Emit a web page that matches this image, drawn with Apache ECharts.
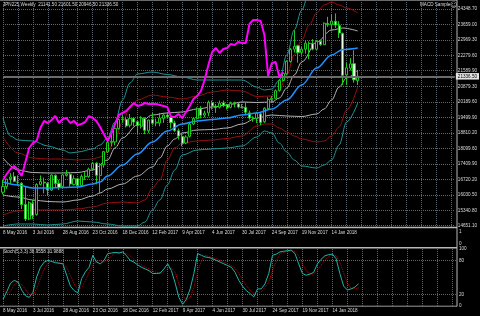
<!DOCTYPE html>
<html><head><meta charset="utf-8">
<script src="https://cdn.jsdelivr.net/npm/echarts@6/dist/echarts.min.js"></script>
<style>html,body{margin:0;padding:0;background:#000;}#c{width:480px;height:316px;}</style>
</head><body><div id="c"></div>
<script>
// ---------- data ----------
const categoryCount = 122; // weekly slots on the x axis (96 with data)
const dateLabels = ['8 May 2016','3 Jul 2016','28 Aug 2016','23 Oct 2016','18 Dec 2016','12 Feb 2017','9 Apr 2017','4 Jun 2017','30 Jul 2017','24 Sep 2017','19 Nov 2017','14 Jan 2018'];
const priceTicks = [14651.10,15340.80,16030.50,16720.20,17409.90,18099.60,18810.20,19499.90,20189.60,20879.30,21589.90,22279.60,22969.30,23659.00,24348.70];
const stochLabelTicks = [0,20,80,100];
const stochLevelLines = [20,80];
const subWindowTicks = [0,1];

const opens = [16150,16400,16750,16850,16600,16550,15600,14950,15650,15150,
16500,16600,16550,16250,16900,16550,16400,16900,16950,16500,
16750,16450,16860,16850,17200,17450,16900,17380,17950,18380,
18400,19000,19400,19400,19150,19450,19300,19100,19450,18900,
19400,19250,19250,19450,19600,19500,19250,18900,18650,18350,
18650,19200,19450,19880,19600,19700,20150,20000,19950,20150,
20050,19950,20100,20100,19950,19950,19700,19450,19450,19650,
19300,19900,20300,20350,20700,21150,21450,22000,22550,22700,
22400,22550,22800,22800,22550,22900,22750,23700,23650,23800,
23600,23250,21400,21700,21900,21141.5];
const highs = [16700,16750,17000,17050,16900,16600,16400,15750,15800,16550,
16900,16800,16600,16950,16950,16700,16950,17150,17000,16900,
16800,16950,17050,17250,17500,17500,17450,18000,18450,18750,
19050,19450,19600,19500,19650,19500,19350,19550,19500,19400,
19700,19450,19700,19700,19700,19550,19350,19000,18750,18700,
19300,19500,19950,20000,19800,20250,20250,20100,20250,20250,
20100,20200,20200,20150,20100,20150,19800,19550,19750,19750,
19950,20400,20450,20750,21200,21500,22050,22600,23400,22750,
22650,22950,22900,23000,22950,22950,23750,24000,24100,24150,
23800,23300,21950,22150,22500,21601.5];
const lows = [16050,16300,16500,16600,16450,15400,14860,14900,14950,15100,
16450,16100,16000,16200,16350,16250,16350,16850,16400,16450,
16350,16400,16700,16800,17150,16500,16100,17250,17900,18200,
18250,18950,19250,19050,19050,19100,18750,19000,18750,18800,
19150,19100,19100,19250,19450,19000,18850,18500,18200,18300,
18600,19150,19400,19450,19500,19550,19850,19700,19900,19950,
19850,19900,19950,19900,19900,19650,19400,19300,19250,19150,
19250,19850,20150,20350,20650,21100,21400,21950,22400,21950,
22300,22350,22100,22500,22500,22700,22750,23550,23350,23500,
23050,20950,20950,21600,21050,20946.5];
const closes = [16412,16736,16834,16642,16601,15599,14952,15682,15106,16497,
16627,16569,16254,16919,16545,16360,16925,16965,16519,16754,
16450,16860,16856,17184,17446,16905,17374,17967,18381,18426,
18996,19401,19428,19114,19454,19287,19137,19467,18918,19378,
19235,19283,19469,19604,19521,19262,18909,18664,18335,18620,
19196,19445,19883,19590,19686,20177,20013,19943,20132,20033,
19929,20118,20099,19959,19952,19729,19470,19452,19691,19274,
19909,20296,20356,20690,21155,21457,22008,22539,22681,22397,
22550,22819,22811,22553,22902,22764,23714,23653,23808,23631,
23274,21382,21720,21892,21181,21336.5];

// moving average and bands: [week index, price]
const maBlue = [[0,16607],[4,16473],[8,16339],[12,16339],[16,16361],[20,16383],[24,16517],[26,16607],[28,16875],[32,17367],[36,17860],[40,18397],[44,18889],[48,19202],[52,19337],[56,19404],[60,19471],[64,19605],[68,19695],[72,19874],[76,20276],[80,20948],[84,21708],[88,22290],[91,22536],[95,22603]];
const bandWhiteUp = [[0,17681],[4,17144],[8,17032],[12,17010],[16,17010],[20,17032],[24,17144],[28,17591],[30,18129],[32,18576],[36,19158],[40,19605],[44,19695],[48,19740],[52,19874],[56,19963],[60,20053],[64,20187],[68,20165],[72,20187],[74,20366],[76,20813],[78,21395],[80,21977],[84,22872],[88,23409],[91,23498],[95,23364]];
const bandRedUp = [[0,18621],[4,17905],[8,17681],[12,17636],[16,17636],[20,17591],[24,17636],[26,17726],[28,17949],[30,18486],[32,19292],[34,19918],[36,20276],[40,20500],[44,20410],[48,20321],[52,20455],[56,20634],[60,20724],[64,20679],[68,20433],[72,20455],[74,20724],[76,21395],[78,22290],[80,22961],[82,23633],[84,24170],[86,24528],[88,24662],[90,24528],[92,24393],[95,24170]];
const bandCyanUp = [[0,19471],[2,18665],[4,18486],[8,18442],[12,18218],[16,18039],[18,17905],[20,17949],[24,18084],[26,18263],[28,18576],[30,19292],[32,20276],[34,21037],[36,21440],[40,21529],[44,21417],[48,21305],[52,21171],[56,21171],[60,21171],[64,21171],[68,20858],[70,20724],[72,20768],[74,21171],[76,22290],[78,23409],[80,24304],[82,25109],[86,25870],[90,25870],[95,25109]];
const bandWhiteLow = [[0,16025],[4,15935],[8,15801],[12,15734],[16,15712],[20,15801],[24,15980],[26,16115],[28,16294],[32,16517],[36,16875],[40,17278],[42,17681],[44,18218],[46,18531],[48,18800],[52,18934],[56,18956],[60,19024],[64,19202],[68,19471],[72,19605],[76,19560],[80,19538],[84,19650],[86,19874],[88,20276],[90,20858],[92,21260],[95,21619]];
const bandRedLow = [[0,15130],[4,15309],[8,15354],[12,15354],[16,15354],[20,15399],[24,15488],[28,15667],[32,15712],[36,15667],[38,15801],[40,16338],[42,16696],[44,17591],[46,18129],[48,18352],[52,18442],[56,18486],[60,18554],[64,18666],[68,19113],[70,19202],[72,19202],[74,19024],[76,18845],[78,18666],[80,18531],[84,18397],[86,18442],[88,18666],[90,19068],[92,19829],[95,20858]];
const bandCyanLow = [[0,14638],[4,14727],[8,14727],[12,14683],[16,14727],[20,14861],[24,14817],[28,14727],[32,14638],[36,14638],[38,14817],[40,15354],[42,15801],[44,16473],[46,17144],[48,17815],[52,18039],[56,18084],[60,18129],[64,18218],[68,18621],[70,18889],[72,18800],[74,18352],[76,17949],[78,17591],[80,17323],[84,17233],[86,17367],[88,17591],[90,18263],[92,19292],[95,20142]];

// magenta overlay line, weeks 0..75
const magentaLine = [16696,16965,17189,17323,17144,16875,17502,18129,18352,18442,
19024,19337,19247,19382,19560,19247,19426,19471,19247,19337,
19158,19202,19292,19560,19471,19337,19068,18755,18442,18755,
19202,19605,19695,19784,19963,20142,20008,20053,20142,20097,
20097,20097,20053,20008,19963,19516,19516,19650,19471,19740,
20008,20321,20455,20679,21171,21843,22424,22603,22379,22558,
22603,22782,22737,22872,22827,22827,23677,23856,23856,23811,
23185,21350,21932,21977,21305,21529];

// Stochastic (5,3,3)
const stochMain = [12,25,40,45,42,28,18,15,24,51,
68,77,80,78,76,75,74,54,35,27,
23,48,60,68,89,77,74,80,92,93,
94,93,95,88,80,77,72,68,65,62,
57,57,58,65,74,62,40,15,3,12,
30,57,92,89,86,85,83,80,77,74,
71,68,59,45,35,27,22,16,30,30,
39,57,89,91,95,96,97,98,92,74,
57,54,56,59,74,82,88,90,91,83,
57,35,28,30,33,38.9558];
const stochSignal = [30,22,26,37,42,38,29,20,19,30,
48,65,75,78,78,76,75,68,54,39,
28,33,44,59,72,78,80,77,82,88,
93,93,94,92,88,82,76,72,68,65,
61,59,57,60,66,67,59,39,19,10,
15,33,60,79,89,87,85,83,80,77,
74,71,66,57,46,36,28,22,23,25,
33,42,62,79,92,94,96,97,96,88,
74,62,56,56,63,72,81,87,90,88,
77,58,40,31,30,31.9888];

const titleText = 'JPN225,Weekly  21141.50 21601.50 20946.50 21336.50';
const stochTitle = 'Stoch(5,3,3) 38.9558 31.9888';
const lastPrice = 21336.50;

// ---------- chart ----------
const FONT = 'Liberation Sans';
const FS = 4.6;
const TXT = '#dcdcdc';
const GRIDC = '#5d6772';
const categories = Array.from({length: categoryCount}, (_, i) => String(i));
const candles = opens.map((o, i) => [o, closes[i], lows[i], highs[i]]);
const gridLR = {left: 1.7, right: 24.1};

function bandSeries(data, color) {
  return {type: 'line', xAxisIndex: 0, yAxisIndex: 0, data: data, smooth: 0.35, smoothMonotone: 'x',
    symbol: 'none', lineStyle: {color: color, width: 1}, silent: true, z: 3};
}
function xAxisFor(gridIndex, showLabels, margin) {
  return {
    type: 'category', gridIndex: gridIndex, data: categories, boundaryGap: false,
    axisLine: {show: false}, axisTick: {show: false},
    axisLabel: {show: showLabels, interval: 7, align: 'left', margin: margin, fontSize: FS, fontFamily: FONT, color: TXT,
      formatter: (v, i) => dateLabels[Math.round(i / 8)] !== undefined && i % 8 === 0 ? dateLabels[i / 8] : ''},
    splitLine: {show: gridIndex !== 1, interval: 3, lineStyle: {color: GRIDC, type: 'dotted', width: 1}}
  };
}

const option = {
  backgroundColor: '#000000',
  animation: false,
  grid: [
    Object.assign({top: 0, height: 227}, gridLR),
    Object.assign({top: 231.7, height: 12.3}, gridLR),
    Object.assign({top: 249, height: 57}, gridLR)
  ],
  xAxis: [xAxisFor(0, true, 3.5), xAxisFor(1, false, 0), xAxisFor(2, true, 2.5)],
  yAxis: [
    {type: 'value', gridIndex: 0, position: 'right', min: 14593.2, max: 24751.5, scale: true,
      axisLine: {show: false},
      axisTick: {show: false, customValues: priceTicks},
      axisLabel: {customValues: priceTicks, formatter: v => v.toFixed(2), fontSize: FS, fontFamily: FONT, color: TXT, margin: 3},
      splitLine: {show: true, lineStyle: {color: GRIDC, type: 'dotted', width: 1}}},
    {type: 'value', gridIndex: 1, position: 'right', min: 0, max: 1, interval: 1,
      axisLine: {show: false}, axisTick: {show: false},
      axisLabel: {customValues: subWindowTicks, fontSize: FS, fontFamily: FONT, color: TXT, margin: 3},
      splitLine: {show: false}},
    {type: 'value', gridIndex: 2, position: 'right', min: 0, max: 100,
      axisLine: {show: false},
      axisTick: {show: false, customValues: stochLevelLines},
      axisLabel: {customValues: stochLabelTicks, fontSize: FS, fontFamily: FONT, color: TXT, margin: 3},
      splitLine: {show: true, lineStyle: {color: GRIDC, type: 'dotted', width: 1}}}
  ],
  series: [
    {type: 'candlestick', xAxisIndex: 0, yAxisIndex: 0, data: candles, barWidth: 2.6, z: 4,
      itemStyle: {color: '#000000', color0: '#eaffea', borderColor: '#1ccc1c', borderColor0: '#1ccc1c', borderWidth: 1},
      markLine: {silent: true, symbol: 'none', animation: false,
        data: [{yAxis: lastPrice}],
        lineStyle: {color: '#6b6b6b', width: 2, type: 'solid'},
        label: {show: true, position: 'end', distance: 1, formatter: lastPrice.toFixed(2),
          fontSize: FS, fontFamily: FONT, color: '#000', backgroundColor: '#e4e4e4', padding: [1, 2, 0.5, 2]}}},
    bandSeries(bandCyanUp, '#1b9696'),
    bandSeries(bandRedUp, '#9a0f0f'),
    bandSeries(bandWhiteUp, '#b4b4b4'),
    bandSeries(bandWhiteLow, '#b4b4b4'),
    bandSeries(bandRedLow, '#9a0f0f'),
    bandSeries(bandCyanLow, '#1b9696'),
    {type: 'line', xAxisIndex: 0, yAxisIndex: 0, data: maBlue, smooth: 0.35, smoothMonotone: 'x', symbol: 'none',
      lineStyle: {color: '#1e90ff', width: 1.5}, silent: true, z: 5},
    {type: 'line', xAxisIndex: 0, yAxisIndex: 0, data: magentaLine, symbol: 'none',
      lineStyle: {color: '#ff00ff', width: 2}, silent: true, z: 6},
    {type: 'line', xAxisIndex: 2, yAxisIndex: 2, data: stochSignal, symbol: 'none',
      lineStyle: {color: '#c80000', width: 1, type: 'dotted'}, silent: true, z: 3},
    {type: 'line', xAxisIndex: 2, yAxisIndex: 2, data: stochMain, symbol: 'none',
      lineStyle: {color: '#20b2aa', width: 1}, silent: true, z: 4}
  ],
  graphic: [
    {type: 'line', shape: {x1: 0, y1: 0.5, x2: 457, y2: 0.5}, style: {stroke: '#6a6a6a', lineWidth: 1}, silent: true},
    {type: 'line', shape: {x1: 0, y1: 227.5, x2: 457, y2: 227.5}, style: {stroke: '#b8b8b8', lineWidth: 1.5}, silent: true},
    {type: 'line', shape: {x1: 0, y1: 247.7, x2: 457, y2: 247.7}, style: {stroke: '#b8b8b8', lineWidth: 1.5}, silent: true},
    {type: 'line', shape: {x1: 0, y1: 306.2, x2: 457, y2: 306.2}, style: {stroke: '#9a9a9a', lineWidth: 1}, silent: true},
    {type: 'line', shape: {x1: 457, y1: 0, x2: 457, y2: 306.5}, style: {stroke: '#b8b8b8', lineWidth: 1}, silent: true},
    {type: 'text', x: 3, y: 4.6, silent: true,
      style: {text: titleText, fontSize: FS, fontFamily: FONT, fill: TXT, verticalAlign: 'middle', align: 'left'}},
    {type: 'text', x: 420, y: 5, silent: true,
      style: {text: 'MACD Sample', fontSize: FS, fontFamily: FONT, fill: TXT, verticalAlign: 'middle', align: 'left'}},
    {type: 'text', x: 450, y: 5.2, silent: true,
      style: {text: '\u263A', fontSize: 7, fontFamily: 'DejaVu Sans', fill: '#bfbfbf', verticalAlign: 'middle', align: 'left'}},
    {type: 'text', x: 3, y: 252, silent: true,
      style: {text: stochTitle, fontSize: FS, fontFamily: FONT, fill: TXT, verticalAlign: 'middle', align: 'left'}}
  ]
};
const chart = echarts.init(document.getElementById('c'), null, {renderer: 'canvas', width: 480, height: 316});
chart.setOption(option);
</script>
</body></html>
